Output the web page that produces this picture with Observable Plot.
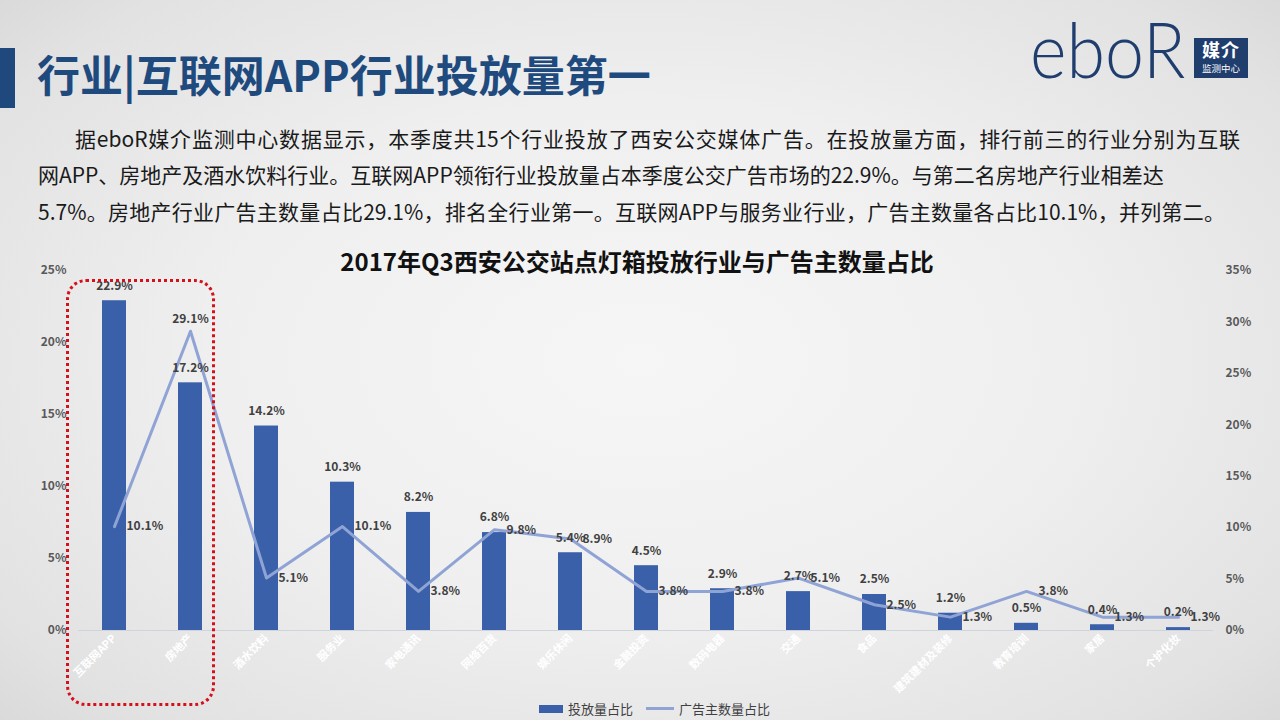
<!DOCTYPE html>
<html>
<head>
<meta charset="utf-8">
<script src="https://cdn.jsdelivr.net/npm/d3@7"></script>
<script src="https://cdn.jsdelivr.net/npm/@observablehq/plot@0.6"></script>
<style>
  html, body { margin:0; padding:0; }
  body {
    width:1280px; height:720px; overflow:hidden; position:relative;
    font-family:"Noto Sans CJK SC","Noto Sans",sans-serif;
    background: radial-gradient(ellipse 75% 80% at 50% 50%, #f6f6f7 0%, #efeff0 45%, #e2e2e3 80%, #d4d4d5 100%);
  }
  .bar-left { position:absolute; left:0; top:48px; width:15px; height:60px; background:#1f497d; }
  .title { position:absolute; left:37px; top:44px; font-size:43px; font-weight:bold; color:#1f4a7e; line-height:58px; white-space:nowrap; }
  .logo { position:absolute; left:1030px; top:11px; font-family:"Lato",sans-serif; font-weight:300; font-size:76px; color:#1f3e6e; line-height:1; transform:scaleX(0.92); transform-origin:left center; }
  .logobox { position:absolute; left:1194px; top:38px; width:54px; height:40px; background:#1f3e6e; }
  .logobox div { position:absolute; left:0; width:54px; text-align:center; color:#fff; line-height:1; }
  .logobox .a { top:2px; font-size:18px; font-weight:bold; letter-spacing:1px; }
  .logobox .b { top:26px; font-size:9.5px; }
  .para { position:absolute; font-size:21px; color:#1a1a1a; white-space:nowrap; line-height:30px; }
  .just { text-align:justify; text-align-last:justify; white-space:normal; }
  .ctitle { position:absolute; left:0; width:1274px; top:243px; text-align:center; font-size:24px; font-weight:bold; color:#111; line-height:36px; }
  #chart { position:absolute; left:0; top:250px; }
  .legend { position:absolute; top:699px; left:539px; font-size:13px; color:#404040; display:flex; align-items:center; }
  .sw1 { display:inline-block; width:24px; height:8px; background:#3a60aa; margin-right:5px; }
  .sw2 { display:inline-block; width:28px; height:3px; background:#8fa3d5; margin-left:13px; margin-right:5px; }
  .redbox { position:absolute; left:66px; top:279px; width:143px; height:421px; border:3px dotted #d4101a; border-radius:20px; }
</style>
</head>
<body>
<div class="bar-left"></div>
<div class="title">行业|互联网APP行业投放量第一</div>
<div class="logo">eboR</div>
<div class="logobox"><div class="a">媒介</div><div class="b">监测中心</div></div>

<div class="para just" style="left:75px;top:123px;width:1165px;">据eboR媒介监测中心数据显示，本季度共15个行业投放了西安公交媒体广告。在投放量方面，排行前三的行业分别为互联</div>
<div class="para" style="left:38px;top:159px;">网APP、房地产及酒水饮料行业。互联网APP领衔行业投放量占本季度公交广告市场的22.9%。与第二名房地产行业相差达</div>
<div class="para just" style="left:38px;top:196px;width:1187px;">5.7%。房地产行业广告主数量占比29.1%，排名全行业第一。互联网APP与服务业行业，广告主数量各占比10.1%，并列第二。</div>

<div id="chart"></div>
<div class="ctitle">2017年Q3西安公交站点灯箱投放行业与广告主数量占比</div>
<div class="redbox"></div>
<div class="legend"><span class="sw1"></span>投放量占比<span class="sw2"></span>广告主数量占比</div>

<script>
const categories = ["互联网APP","房地产","酒水饮料","服务业","家电通讯","网络百货","娱乐休闲","金融投资","数码电器","交通","食品","建筑建材及装修","教育培训","家居","个护化妆"];
const adVolume = [22.9,17.2,14.2,10.3,8.2,6.8,5.4,4.5,2.9,2.7,2.5,1.2,0.5,0.4,0.2];
const advertiserShare = [10.1,29.1,5.1,10.1,3.8,9.8,8.9,3.8,3.8,5.1,2.5,1.3,3.8,1.3,1.3];
const leftTicks = [0,5,10,15,20,25];
const rightTicks = [0,5,10,15,20,25,30,35];

const ratio = 25/35;
const data = categories.map((c,i)=>({category:c, volume:adVolume[i], share:advertiserShare[i]}));
const maxShare = d3.max(advertiserShare);
const lbl = {fill:"#404040", fontWeight:"bold", fontSize:12};

const chart = Plot.plot({
  width:1280, height:450,
  marginTop:20, marginBottom:70, marginLeft:78, marginRight:67,
  style:{background:"transparent", fontFamily:"Noto Sans CJK SC, sans-serif", overflow:"visible"},
  x:{domain:categories, range:[75,1218], paddingInner:0.68, paddingOuter:0.34, label:null},
  y:{domain:[0,25], label:null},
  marks:[
    Plot.axisY(leftTicks, {anchor:"left", tickFormat:d=>d+"%", tickSize:0, tickPadding:12, fill:"#595959", fontWeight:"bold", fontSize:12, label:null}),
    Plot.axisY(rightTicks.map(t=>t*ratio), {anchor:"right", tickFormat:d=>Math.round(d/ratio)+"%", tickSize:0, tickPadding:12, fill:"#595959", fontWeight:"bold", fontSize:12, label:null}),
    Plot.axisX({tickRotate:-45, tickSize:0, tickPadding:6, fill:"#ffffff", fontWeight:"bold", fontSize:11, label:null}),
    Plot.ruleY([0], {stroke:"#cfd3dc"}),
    Plot.barY(data, {x:"category", y:"volume", fill:"#3a60aa"}),
    Plot.lineY(data, {x:"category", y:d=>d.share*ratio, stroke:"#8fa3d5", strokeWidth:3}),
    Plot.text(data, {x:"category", y:"volume", text:d=>d.volume.toFixed(1)+"%", dy:-15, ...lbl}),
    Plot.text(data.filter(d=>d.share<maxShare), {x:"category", y:d=>d.share*ratio, text:d=>d.share.toFixed(1)+"%", dx:12, textAnchor:"start", ...lbl}),
    Plot.text(data.filter(d=>d.share===maxShare), {x:"category", y:d=>d.share*ratio, text:d=>d.share.toFixed(1)+"%", dy:-12, ...lbl})
  ]
});
document.getElementById("chart").appendChild(chart);
</script>
</body>
</html>
